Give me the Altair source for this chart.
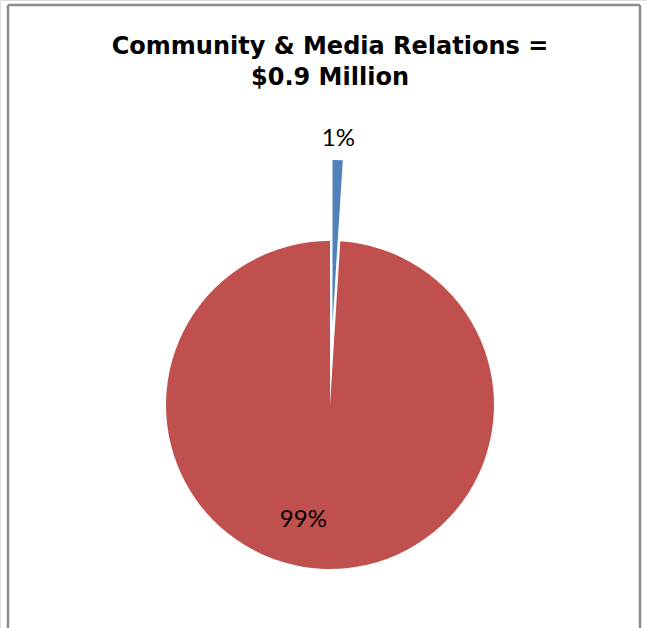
import altair as alt
import pandas as pd

categories = ["Other", "Community & Media Relations"]
shares = [1, 99]
labels = ["1%", "99%"]
colors = ["#4F81BD", "#C0504D"]

df = pd.DataFrame({"category": categories, "share": shares, "label": labels, "order": [0, 1]})

base = alt.Chart(df).transform_window(
    end="sum(share)", sort=[alt.SortField("order")]
).transform_calculate(
    start="datum.end - datum.share", mid="datum.end - datum.share / 2"
)

tscale = alt.Scale(domain=[0, 100], range=[0, 6.283185307])
cscale = alt.Scale(domain=categories, range=colors)

def arc_layer(cat, cx, cy):
    return base.transform_filter(alt.datum.category == cat).mark_arc(radius=164, strokeWidth=0).encode(
        theta=alt.Theta("start:Q", scale=tscale, stack=False),
        theta2="end:Q",
        color=alt.Color("category:N", scale=cscale, legend=None),
        x=alt.value(cx),
        y=alt.value(cy),
    )

blue = arc_layer(categories[0], 332.5, 324)
red = arc_layer(categories[1], 330, 405)

lab_blue = base.transform_filter(alt.datum.category == categories[0]).mark_text(
    radius=185, font="Lato", fontSize=24, color="black", align="center", baseline="middle"
).encode(
    theta=alt.Theta("mid:Q", scale=tscale, stack=False),
    text="label:N",
    x=alt.value(332.5),
    y=alt.value(324),
)
lab_red = base.transform_filter(alt.datum.category == categories[1]).mark_text(
    radius=115, dx=-23, font="Lato", fontSize=24, color="black", align="center", baseline="middle"
).encode(
    theta=alt.Theta("mid:Q", scale=tscale, stack=False),
    text="label:N",
    x=alt.value(330),
    y=alt.value(405),
)

one = alt.Data(values=[{"a": 1}])
border_style = dict(color="#8c8c8c", strokeWidth=2.5)
top_rule = alt.Chart(one).mark_rule(**border_style).encode(x=alt.value(8), x2=alt.value(640), y=alt.value(5))
left_rule = alt.Chart(one).mark_rule(**border_style).encode(x=alt.value(8), y=alt.value(5), y2=alt.value(640))
right_rule = alt.Chart(one).mark_rule(**border_style).encode(x=alt.value(640), y=alt.value(5), y2=alt.value(640))

chart = alt.layer(red, blue, lab_blue, lab_red, top_rule, left_rule, right_rule).properties(
    width=647,
    height=628,
    autosize=alt.AutoSizeParams(type="none"),
    padding=0,
    title=alt.TitleParams(
        ["Community & Media Relations =", "$0.9 Million"],
        font="DejaVu Sans",
        fontSize=24,
        fontWeight="bold",
        color="black",
        anchor="middle",
        baseline="alphabetic",
        offset=0,
        dy=109,
        dx=6.5,
        lineHeight=31,
    ),
).configure_view(strokeWidth=0).configure(background="white")

chart.save("out.html", embed_options={"renderer": "svg", "actions": False})
